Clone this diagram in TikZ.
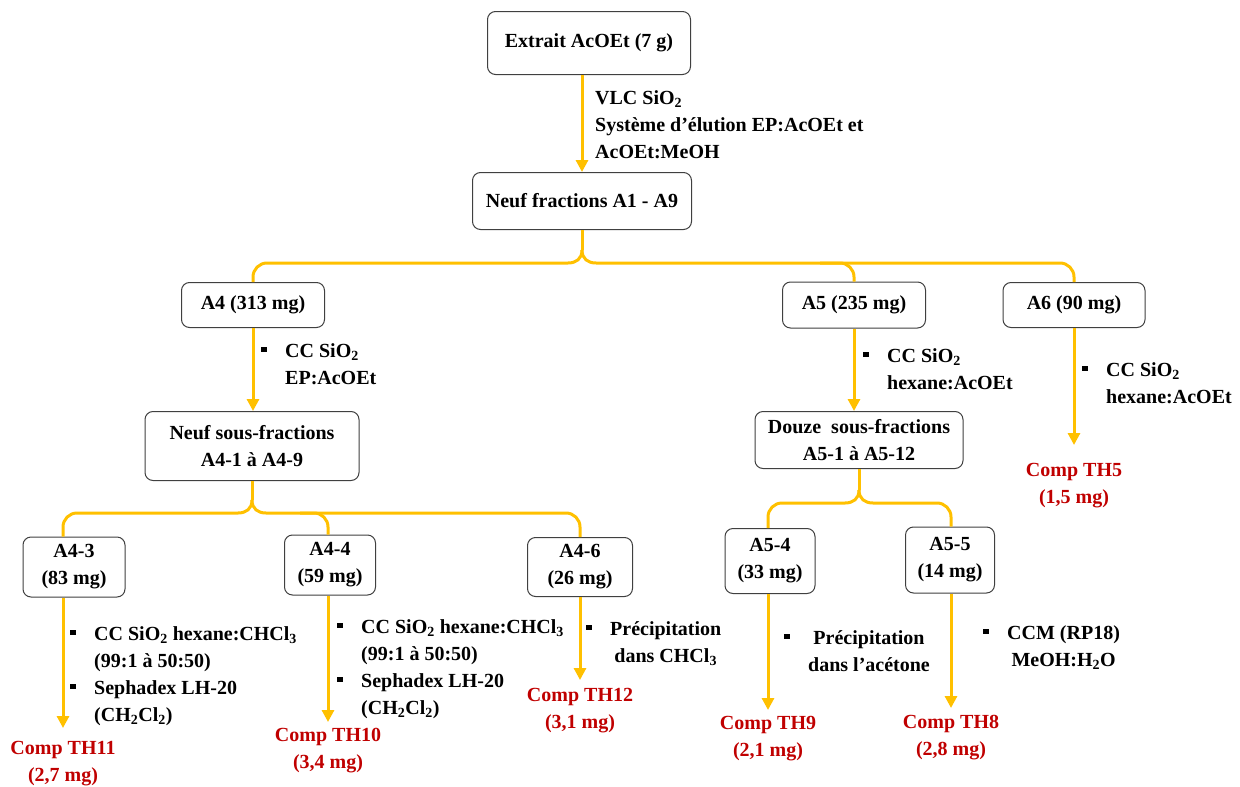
\documentclass[tikz,border=0pt]{standalone}
\usepackage{fontspec}
\setmainfont{Liberation Serif}
\usetikzlibrary{arrows.meta}
\definecolor{gold}{HTML}{FFC000}
\definecolor{dred}{HTML}{C00000}
\definecolor{bord}{HTML}{404040}
\newcommand{\bul}{\makebox[24pt][l]{\rule[5pt]{5.5pt}{5.5pt}}}
\newcommand{\sbs}[1]{\textsubscript{#1}}
\begin{document}
\begin{tikzpicture}[x=1pt,y=-1pt,
  box/.style={draw=bord,line width=1pt,rounded corners=8pt,fill=white,align=center,inner sep=0pt,font=\bfseries\fontsize{20}{27}\selectfont},
  lab/.style={inner sep=0pt,anchor=base west,font=\bfseries\fontsize{20}{27}\selectfont},
  res/.style={inner sep=0pt,align=center,text=dred,anchor=north,font=\bfseries\fontsize{20}{27}\selectfont},
  arr/.style={draw=gold,line width=3pt,-{Triangle[width=12pt,length=12pt]}},
  br/.style={draw=gold,line width=3pt}]
\useasboundingbox (0,0) rectangle (1240,787);

% boxes
\node[box,minimum width=203pt,minimum height=63pt] (top) at (589,43) {Extrait AcOEt (7 g)};
\node[box,minimum width=219pt,minimum height=57pt] (frac) at (582,201) {Neuf fractions A1 - A9};
\node[box,minimum width=143pt,minimum height=45pt] (A4) at (253,305) {A4 (313 mg)};
\node[box,minimum width=143pt,minimum height=46pt] (A5) at (854,305) {A5 (235 mg)};
\node[box,minimum width=142pt,minimum height=45pt] (A6) at (1074,305) {A6 (90 mg)};
\node[box,minimum width=214pt,minimum height=69pt] (sf4) at (252,446) {Neuf sous-fractions\\A4-1 à A4-9};
\node[box,minimum width=208pt,minimum height=57pt] (sf5) at (859,440) {Douze\ \ sous-fractions\\A5-1 à A5-12};
\node[box,minimum width=102pt,minimum height=60pt] (A43) at (74,567) {A4-3\\(83 mg)};
\node[box,minimum width=91pt,minimum height=60pt] (A44) at (330,565) {A4-4\\(59 mg)};
\node[box,minimum width=105pt,minimum height=59pt] (A46) at (580,567) {A4-6\\(26 mg)};
\node[box,minimum width=90pt,minimum height=65pt] (A54) at (770,561) {A5-4\\(33 mg)};
\node[box,minimum width=89pt,minimum height=66pt] (A55) at (950,560) {A5-5\\(14 mg)};

% results
\node[res] (TH5) at (1074,463) {Comp TH5\\(1,5 mg)};
\node[res] (TH11) at (63,741) {Comp TH11\\(2,7 mg)};
\node[res] (TH10) at (328,728) {Comp TH10\\(3,4 mg)};
\node[res] (TH12) at (580,688) {Comp TH12\\(3,1 mg)};
\node[res] (TH9) at (768,716) {Comp TH9\\(2,1 mg)};
\node[res] (TH8) at (951,715) {Comp TH8\\(2,8 mg)};

% labels
\node[lab] (l1) at (595,104) {\begin{tabular}[t]{@{}l@{}}VLC SiO\sbs{2}\\Système d’élution EP:AcOEt et\\AcOEt:MeOH\end{tabular}};
\node[lab] (la4) at (261,357) {\begin{tabular}[t]{@{}l@{}l@{}}\bul & CC SiO\sbs{2}\\ & EP:AcOEt\end{tabular}};
\node[lab] (la5) at (863,362) {\begin{tabular}[t]{@{}l@{}l@{}}\bul & CC SiO\sbs{2}\\ & hexane:AcOEt\end{tabular}};
\node[lab] (la6) at (1082,376) {\begin{tabular}[t]{@{}l@{}l@{}}\bul & CC SiO\sbs{2}\\ & hexane:AcOEt\end{tabular}};
\node[lab] (la43) at (70,640) {\begin{tabular}[t]{@{}l@{}l@{}}\bul & CC SiO\sbs{2} hexane:CHCl\sbs{3}\\ & (99:1 à 50:50)\\ \bul & Sephadex LH-20\\ & (CH\sbs{2}Cl\sbs{2})\end{tabular}};
\node[lab] (la44) at (337,633) {\begin{tabular}[t]{@{}l@{}l@{}}\bul & CC SiO\sbs{2} hexane:CHCl\sbs{3}\\ & (99:1 à 50:50)\\ \bul & Sephadex LH-20\\ & (CH\sbs{2}Cl\sbs{2})\end{tabular}};
\node[lab] (la46) at (586,635) {\begin{tabular}[t]{@{}l@{}c@{}}\bul & Précipitation\\ & dans CHCl\sbs{3}\end{tabular}};
\node[lab] (la54) at (784,644) {\begin{tabular}[t]{@{}l@{}c@{}}\bul & Précipitation\\ & dans l’acétone\end{tabular}};
\node[lab] (la55) at (983,639) {\begin{tabular}[t]{@{}l@{}c@{}}\bul & CCM (RP18)\\ & MeOH:H\sbs{2}O\end{tabular}};

% arrows
\draw[arr] (frac.north |- top.south) -- (frac.north);
\draw[arr] (A4.south) -- (A4.south |- sf4.north);
\draw[arr] (A5.south) -- (A5.south |- sf5.north);
\draw[arr,shorten >=18pt] (A6.south -| TH5.north) -- (TH5.north);
\draw[arr,shorten >=13pt] (A43.south -| TH11.north) -- (TH11.north);
\draw[arr,shorten >=6pt] (A44.south -| TH10.north) -- (TH10.north);
\draw[arr,shorten >=8pt] (A46.south -| TH12.north) -- (TH12.north);
\draw[arr,shorten >=6pt] (A54.south -| TH9.north) -- (TH9.north);
\draw[arr,shorten >=7pt] (A55.south -| TH8.north) -- (TH8.north);

% brace 1
\draw[br] (frac.south) -- (582,250);
\draw[br] (582,250) .. controls (582,259) and (576,263) .. (568,263);
\draw[br] (582,250) .. controls (582,259) and (588,263) .. (596,263);
\draw[br,rounded corners=14pt] (568,263) -| (A4.north);
\draw[br,rounded corners=14pt] (596,263) -| (A6.north);
\draw[br,rounded corners=14pt] (820,263) -| (A5.north);

% brace 2
\draw[br] (sf4.south) -- (252,500);
\draw[br] (252,500) .. controls (252,509) and (246,513) .. (238,513);
\draw[br] (252,500) .. controls (252,509) and (258,513) .. (266,513);
\draw[br,rounded corners=14pt] (238,513) -| (A43.north -| TH11.north);
\draw[br,rounded corners=14pt] (266,513) -| (A46.north);
\draw[br,rounded corners=14pt] (300,513) -| (A44.north -| TH10.north);

% brace 3
\draw[br] (sf5.south) -- (859,490);
\draw[br] (859,490) .. controls (859,499) and (853,503) .. (845,503);
\draw[br] (859,490) .. controls (859,499) and (865,503) .. (873,503);
\draw[br,rounded corners=14pt] (845,503) -| (A54.north -| TH9.north);
\draw[br,rounded corners=14pt] (873,503) -| (A55.north -| TH8.north);
\end{tikzpicture}
\end{document}
